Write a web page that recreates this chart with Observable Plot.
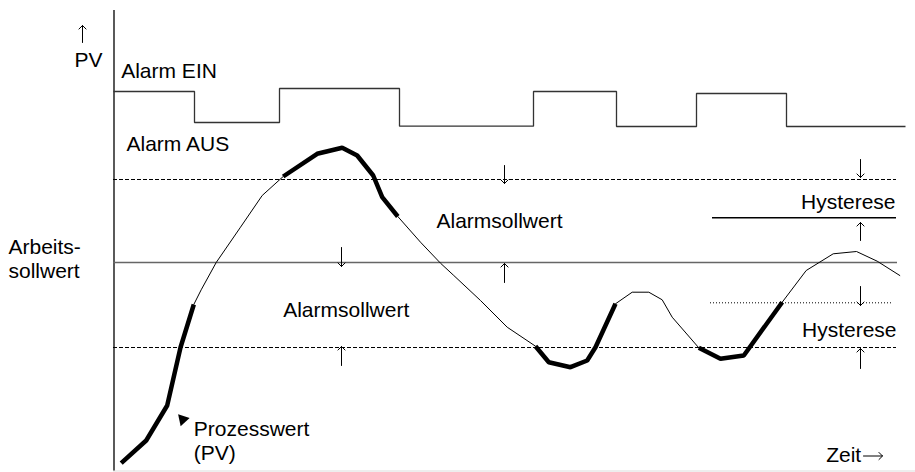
<!DOCTYPE html>
<html>
<head>
<meta charset="utf-8">
<script src="https://cdn.jsdelivr.net/npm/d3@7"></script>
<script src="https://cdn.jsdelivr.net/npm/@observablehq/plot@0.6"></script>
<style>
  html, body { margin: 0; padding: 0; background: #fff; }
  #chart svg { display: block; }
</style>
</head>
<body>
<div id="chart"></div>
<script>
// Process value (PV) over time
const pvTime  = [120.7,145.7,166.7,180,193.3,200.7,215.7,240,261.7,282.7,316.7,341.7,356.7,372.7,381.7,397.3,420,440,453.3,480,506.7,535,548.3,570,586.7,595,615,631.7,648.3,661.7,671.7,698.3,720,743.3,781.7,805.7,832.7,856,876.7,899.3];
const pvValue = [9.3,32,67,125,168,182.7,210,245.3,277,296,318.7,324.7,317,297,275.3,256,230.3,209.3,197,172,145.3,126.3,110.3,105.3,112,125.3,168.7,180.3,180.3,172.7,155.3,124.7,113.7,117,170.3,202,218.7,221,211.3,197];
// indices where the alarm state of the PV trace toggles (first segment: alarm ON)
const pvToggle = [0,4,9,15,21,26,31,34,39];

// Alarm relay signal (step-after)
const alarmTime  = [113,194,279,399,533,616,696,786,905];
const alarmLevel = [381,350,384,346.3,381,346,379,346,346];

// Reference levels
const upperAlarm = 293;
const setpoint = 210;
const lowerAlarm = 125;
const upperHyst = 254.7;
const lowerHyst = 169.7;

// Annotation arrows (tail -> tip)
const arrowTime = [82,341,341,504,504,860,860,860,860];
const arrowTail = [430,225,107,307,190,313,232,186,104];
const arrowTip  = [447,206,126,289,209,295,250,167,124];
// time arrow after "Zeit"
const timeArrowFrom = 863;
const timeArrowTo = 882;
const timeArrowPV = 16.5;

// Labels
const labelText = ["PV","Alarm EIN","Alarm AUS","Arbeits-","sollwert","Alarmsollwert","Alarmsollwert","Hysterese","Hysterese","Prozesswert","(PV)","Zeit"];
const labelTime = [74,120.7,126,8,8,436,282.7,895,896,193.3,193.3,825.7];
const labelPV   = [412,401.4,328.7,225,201,251.4,162,270.7,142.7,43.7,19.7,17.7];
const labelEnd  = [false,false,false,false,false,false,false,true,true,false,false,false];

// build tables
const pvRows = [];
for (let k = 0; k < pvToggle.length - 1; k++) {
  for (let i = pvToggle[k]; i <= pvToggle[k + 1]; i++) {
    pvRows.push({t: pvTime[i], pv: pvValue[i], seg: k, on: k % 2 === 0});
  }
}
const alarmRows = alarmTime.map((t, i) => ({t, v: alarmLevel[i]}));
const arrows = arrowTime.map((t, i) => ({t1: t, t2: t, v1: arrowTail[i], v2: arrowTip[i]}));
arrows.push({t1: timeArrowFrom, t2: timeArrowTo, v1: timeArrowPV, v2: timeArrowPV});
const labels = labelText.map((s, i) => ({s, t: labelTime[i], pv: labelPV[i], end: labelEnd[i]}));

const font = "'Liberation Sans', Arial, sans-serif";

const chart = Plot.plot({
  width: 915,
  height: 472,
  margin: 0,
  x: {domain: [0, 915], axis: null},
  y: {domain: [0, 472], axis: null},
  style: {fontFamily: font, background: "#fff"},
  marks: [
    // frame lines
    Plot.ruleY([1.5], {x1: 113, x2: 915, stroke: "#ddd", strokeWidth: 1}),
    Plot.ruleX([113.5], {y1: 1.5, y2: 462, stroke: "#000", strokeWidth: 1.3}),
    // reference levels
    Plot.ruleY([upperAlarm], {x1: 113, x2: 896, stroke: "#000", strokeWidth: 1, strokeDasharray: "4,2"}),
    Plot.ruleY([lowerAlarm], {x1: 113, x2: 896, stroke: "#000", strokeWidth: 1, strokeDasharray: "4,2"}),
    Plot.ruleY([setpoint], {x1: 113, x2: 897, stroke: "#666", strokeWidth: 1.5}),
    Plot.ruleY([upperHyst], {x1: 712, x2: 896, stroke: "#000", strokeWidth: 1.5}),
    Plot.ruleY([lowerHyst], {x1: 710, x2: 892, stroke: "#000", strokeWidth: 1, strokeDasharray: "1,2"}),
    // alarm relay
    Plot.line(alarmRows, {x: "t", y: "v", curve: "step-after", stroke: "#333", strokeWidth: 1.3, strokeLinejoin: "miter", strokeLinecap: "butt"}),
    // PV trace
    Plot.line(pvRows.filter(d => !d.on), {x: "t", y: "pv", z: "seg", stroke: "#000", strokeWidth: 1, strokeLinejoin: "round"}),
    Plot.line(pvRows.filter(d => d.on), {x: "t", y: "pv", z: "seg", stroke: "#000", strokeWidth: 4.5, strokeLinejoin: "miter", strokeLinecap: "butt"}),
    // arrowhead pointing at PV trace
    Plot.dot([{t: 182.3, pv: 53}], {x: "t", y: "pv", symbol: "triangle", r: 4.5, fill: "#000", stroke: "none", rotate: -42}),
    // annotation arrows
    Plot.arrow(arrows, {x1: "t1", y1: "v1", x2: "t2", y2: "v2", stroke: "#000", strokeWidth: 1, headLength: 7.5, headAngle: 90}),
    // labels
    Plot.text(labels.filter(d => !d.end), {x: "t", y: "pv", text: "s", fontSize: 21, fill: "#000", textAnchor: "start", lineAnchor: "middle"}),
    Plot.text(labels.filter(d => d.end), {x: "t", y: "pv", text: "s", fontSize: 21, fill: "#000", textAnchor: "end", lineAnchor: "middle"})
  ]
});
document.getElementById("chart").appendChild(chart);
</script>
</body>
</html>
